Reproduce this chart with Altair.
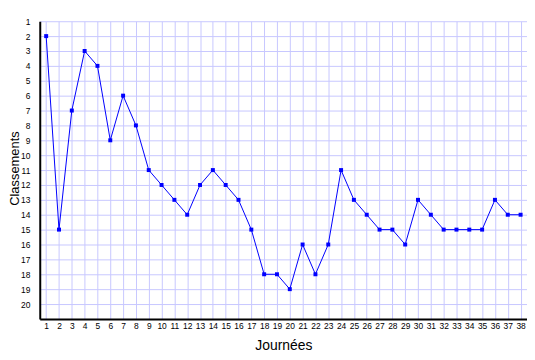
import altair as alt
import pandas as pd

journees = list(range(1, 39))
classements = [2, 15, 7, 3, 4, 9, 6, 8, 11, 12, 13, 14, 12, 11, 12, 13, 15, 18, 18, 19,
               16, 18, 16, 11, 13, 14, 15, 15, 16, 13, 14, 15, 15, 15, 15, 13, 14, 14]

df = pd.DataFrame({"Journée": journees, "Classement": classements})

x = alt.X("Journée:Q",
          scale=alt.Scale(domain=[0.5, 38.5], nice=False, zero=False),
          axis=alt.Axis(title="Journées", values=journees, grid=True, gridColor="#c8c8ff",
                        gridOpacity=1, ticks=False, domainColor="black", domainWidth=2,
                        labelFontSize=8.5, labelFont="Liberation Sans", labelColor="black",
                        labelPadding=3, labelFlush=False, labelOverlap=False,
                        titleFont="Liberation Sans", titleFontSize=14, titleFontWeight="normal",
                        titleColor="black", titlePadding=8))
y = alt.Y("Classement:Q",
          scale=alt.Scale(domain=[1, 21], reverse=True, nice=False, zero=False),
          axis=alt.Axis(title="Classements", values=list(range(1, 21)), grid=True,
                        gridColor="#c8c8ff", gridOpacity=1, ticks=False, domainColor="black",
                        domainWidth=2, labelFontSize=8.5, labelFont="Liberation Sans",
                        labelColor="black", labelPadding=10, labelFlush=False, labelOverlap=False,
                        titleFont="Liberation Sans", titleFontSize=13, titleFontWeight="normal",
                        titleColor="black", titleX=-21, titleY=148, titleAngle=-90,
                        titleAlign="center", titleBaseline="alphabetic"))

line = alt.Chart(df).mark_line(color="#0000ff", strokeWidth=1).encode(x=x, y=y)
pts = alt.Chart(df).mark_square(color="#0000ff", size=16, opacity=1).encode(x=x, y=y)

chart = (line + pts).properties(
    width=491, height=300,
    autosize=alt.AutoSizeParams(type="none"),
    padding={"left": 32, "top": 12, "right": 0, "bottom": 32},
).configure_view(stroke=None)

chart.save("out.html", embed_options={"renderer": "svg", "actions": False})
